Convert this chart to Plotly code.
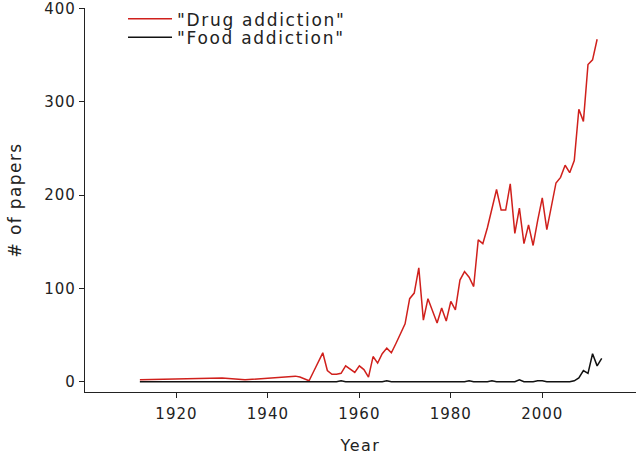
import plotly.graph_objects as go

# -----------------------------
# Data
# -----------------------------
drug_years = [1912, 1930, 1935, 1946, 1947, 1949, 1950, 1951] + list(range(1952, 2013))
drug_papers = [2, 4, 2, 6, 5, 1, 11, 21,
               31, 12, 8, 8, 9, 17, 13, 10, 17, 13,
               5, 27, 20, 30, 36, 31, 41, 52, 62, 89,
               95, 122, 66, 89, 77, 63, 79, 65, 86, 77,
               109, 118, 112, 102, 152, 148, 165, 187, 206, 184,
               184, 212, 159, 186, 148, 168, 146, 173, 197, 163,
               187, 213, 219, 232, 224, 237, 292, 279, 340, 345,
               367]

food_years = [1912, 1930, 1935, 1947, 1949] + list(range(1950, 2014))
food_papers = [0, 0, 0, 0, 0,
               0, 0, 0, 0, 0, 0, 1, 0, 0, 0,
               0, 0, 0, 0, 0, 0, 1, 0, 0, 0,
               0, 0, 0, 0, 0, 0, 0, 0, 0, 0,
               0, 0, 0, 0, 1, 0, 0, 0, 0, 1,
               0, 0, 0, 0, 0, 2, 0, 0, 0, 1,
               1, 0, 0, 0, 0, 0, 0, 1, 4, 12,
               9, 30, 17, 25]

x_ticks = [1920, 1940, 1960, 1980, 2000]
y_ticks = [0, 100, 200, 300, 400]

FONT = "DejaVu Sans"

fig = go.Figure()

# one legend per series so the row spacing can match the reference
fig.add_trace(go.Scatter(
    x=drug_years, y=drug_papers, mode="lines",
    name='"Drug addiction"', legend="legend",
    line=dict(color="#d0201c", width=1.5)
))
fig.add_trace(go.Scatter(
    x=food_years, y=food_papers, mode="lines",
    name='"Food addiction"', legend="legend2",
    line=dict(color="#111111", width=1.5)
))

axis_style = dict(
    showgrid=False, zeroline=False, automargin=False,
    showline=True, linecolor="#222222", linewidth=1.3,
    ticks="outside", ticklen=5, tickwidth=1.3, tickcolor="#222222",
    tickfont=dict(family=FONT, size=15, color="#222222"),
    ticklabeloverflow="allow",
)

legend_style = dict(
    xanchor="left", yanchor="middle",
    bgcolor="rgba(0,0,0,0)", font=dict(family=FONT, size=17),
    itemwidth=44,
)

fig.update_layout(
    width=638, height=455,
    margin=dict(l=85, r=2, t=7, b=63),
    paper_bgcolor="white", plot_bgcolor="white",
    font=dict(family=FONT, size=16, color="#222222"),
    xaxis=dict(range=[1900, 2020.5], tickvals=x_ticks, ticklabelstandoff=3,
               title=dict(text="Year", font=dict(family=FONT, size=16), standoff=20),
               **axis_style),
    yaxis=dict(range=[-11, 400.5], tickvals=y_ticks,
               title=dict(text="# of papers", font=dict(family=FONT, size=17), standoff=21),
               **axis_style),
    legend=dict(x=0.069, y=0.968, **legend_style),
    legend2=dict(x=0.069, y=0.920, **legend_style),
    showlegend=True,
)

# no page margin, and the wider letter spacing of the original typeface
post = """
document.body.style.margin = '0px';
var css = document.createElement('style');
css.textContent =
    '[class^="legend"] text { letter-spacing: 1.7px; }' +
    '[class^="legend"] .scrollbox { clip-path: none !important; }' +
    '.g-xtitle text { letter-spacing: 1.5px; }' +
    '.g-ytitle text { letter-spacing: 1.4px; }' +
    '.xtick text, .ytick text { letter-spacing: 1px; }';
document.head.appendChild(css);
"""

fig.write_html("out.html", post_script=post, config={"displayModeBar": False})
